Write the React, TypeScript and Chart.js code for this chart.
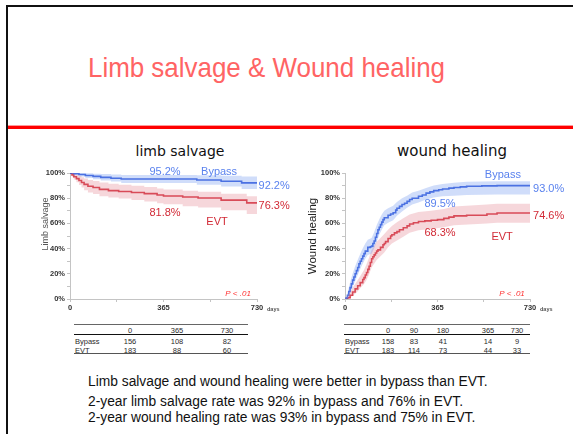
import React, { useEffect, useRef } from "react";
import { Chart, registerables } from "chart.js";

Chart.register(...registerables);

const FONT = '"Liberation Sans", Arial, sans-serif';

// ---------- Limb salvage data (days, %) ----------
const lsBypassDays = [0, 15, 35, 60, 90, 120, 160, 200, 495, 590, 670, 730];
const lsBypass = [100, 99.4, 98.8, 98.0, 97.3, 96.5, 95.8, 95.2, 94.5, 93.5, 92.2, 92.2];
const lsBypassUpper = [100, 100, 100, 99.8, 99.5, 99.2, 98.8, 98.5, 98.3, 97.8, 97.3, 97.3];
const lsBypassLower = [100, 98.3, 97.2, 96.0, 95.0, 94.0, 93.2, 92.0, 90.7, 89.3, 87.3, 85.4];

const lsEvtDays = [0, 8, 15, 25, 35, 45, 55, 70, 90, 115, 150, 190, 240, 290, 340, 365, 440, 500, 590, 690, 730];
const lsEvt = [100, 98.5, 97, 95.5, 94, 92.5, 91, 89.5, 88.5, 87, 86, 85.3, 84.5, 83.6, 82.5, 81.8, 81, 80.2, 78.5, 76.3, 76.3];
const lsEvtUpper = [100, 99.8, 99.2, 98.4, 97.6, 96.6, 95.6, 94.4, 93.6, 92.4, 91.4, 90.6, 89.8, 88.8, 87.6, 87, 86, 85.2, 83.6, 81.5, 81.5];
const lsEvtLower = [100, 97, 94.8, 92.6, 90.4, 88.4, 86.4, 84.6, 83.4, 81.6, 80.6, 79.8, 78.6, 77.4, 76, 75.2, 73.6, 72.6, 70.5, 67.5, 67.5];

// ---------- Wound healing data (days, %) ----------
const whBypassDays = [0, 5, 10, 15, 20, 25, 30, 35, 40, 45, 50, 55, 60, 65, 70, 75, 80, 90, 100, 105, 110, 115, 120, 125, 130, 135, 140, 145, 150, 155, 170, 180, 190, 200, 205, 215, 225, 235, 245, 255, 265, 290, 305, 320, 335, 350, 370, 385, 410, 430, 455, 480, 540, 600, 730];
const whBypass = [0, 1, 3, 6, 9, 12, 15, 17.5, 20, 22.5, 25, 28, 30, 32, 34, 36, 38, 41, 41.5, 42, 44, 46, 49, 52, 55, 57, 59, 61, 63, 64.5, 66.5, 67.5, 68.5, 70.5, 72, 73.5, 75, 76, 77.5, 79, 80, 81.5, 82.5, 84, 85, 86, 86.7, 87.3, 88, 88.5, 89, 89.5, 89.8, 90, 90];
const whBypassBandDays = [0, 10, 20, 30, 40, 50, 65, 80, 90, 105, 115, 125, 135, 145, 155, 170, 190, 205, 225, 245, 265, 290, 320, 350, 385, 430, 480, 600, 730];
const whBypassUpper = [0, 5, 13, 20, 26, 31, 38, 44, 47, 48.5, 53, 58.5, 63, 67, 70, 72, 74, 77, 80, 82, 84.5, 86, 88, 90, 91.2, 92.2, 93, 93.4, 93.4];
const whBypassLower = [0, 1, 5, 10, 14, 19, 26, 32, 35, 36, 40, 45.5, 51, 55, 58.5, 60.5, 62.5, 66, 69.5, 72.5, 75, 76.5, 79, 80.5, 81.5, 82, 82.5, 83, 83];

const whEvtDays = [0, 10, 20, 30, 40, 50, 60, 70, 75, 80, 85, 90, 95, 100, 105, 110, 115, 120, 125, 130, 140, 150, 155, 160, 170, 180, 185, 195, 205, 215, 230, 245, 255, 270, 290, 315, 340, 365, 390, 410, 430, 480, 560, 600, 730];
const whEvt = [0, 1, 3, 5.5, 8, 10.5, 13, 15.5, 17, 19, 21, 23.5, 26, 29, 32, 33.5, 35, 36.5, 38, 39, 41, 43, 44, 45.5, 48, 50, 51, 52.5, 53.5, 55, 56.5, 58, 59.5, 60.5, 61.5, 62, 62.5, 63, 64, 65, 66, 66.5, 67.5, 68.3, 68.3];
const whEvtBandDays = [0, 15, 30, 45, 60, 75, 85, 95, 105, 115, 125, 140, 155, 170, 185, 205, 230, 255, 290, 340, 390, 430, 560, 600, 730];
const whEvtUpper = [0, 4, 9, 13.5, 18, 23, 27.5, 33, 39, 42, 45.5, 48.5, 51.5, 55, 58, 61, 64, 67, 69, 70, 71.5, 73.5, 75, 75.5, 75.5];
const whEvtLower = [0, 0.5, 2.5, 5, 8.5, 12, 15, 19.5, 25, 28, 31, 34, 37, 41, 44, 46.5, 49.5, 52.5, 54.5, 55.5, 57, 58.5, 60, 60.5, 60.5];

// ---------- Axis ticks ----------
const xTickValues = [0, 182.5, 365, 547.5, 730];
const xTickLabels = [0, 365, 730];
const yTickValues = [0, 10, 20, 30, 40, 50, 60, 70, 80, 90, 100];
const yTickLabels = [0, 20, 40, 60, 80, 100];

// ---------- Number-at-risk tables ----------
const lsRiskDays = ["0", "365", "730"];
const lsRiskBypass = ["156", "108", "82"];
const lsRiskEvt = ["183", "88", "60"];
const whRiskDays = ["0", "90", "180", "365", "730"];
const whRiskBypass = ["158", "83", "41", "14", "9"];
const whRiskEvt = ["183", "114", "73", "44", "33"];

// ---------- Text ----------
const slideTitle = "Limb salvage & Wound healing";
const summaryLines = [
  "Limb salvage and wound healing were better in bypass than EVT.",
  "2-year limb salvage rate was 92% in bypass and 76% in EVT.",
  "2-year wound healing rate was 93% in bypass and 75% in EVT.",
];

const BLUE = "#3b60dc";
const BLUE_TXT = "#5a82ee";
const RED = "#d3313f";
const RED_TXT = "#d22a36";
const BLUE_BAND = "rgba(110,150,240,0.32)";
const RED_BAND = "rgba(228,130,142,0.32)";

const pts = (d: number[], v: number[]) => d.map((x, i) => ({ x, y: v[i] }));

const lsAnnotations = [
  { text: "95.2%", day: 371, pct: 101, color: BLUE_TXT, font: `11px ${FONT}`, align: "center" },
  { text: "Bypass", day: 582, pct: 101, color: BLUE_TXT, font: `11px ${FONT}`, align: "center" },
  { text: "92.2%", day: 736, pct: 90, color: BLUE_TXT, font: `11px ${FONT}`, align: "left" },
  { text: "76.3%", day: 736, pct: 74, color: RED_TXT, font: `11px ${FONT}`, align: "left" },
  { text: "81.8%", day: 371, pct: 68.5, color: RED_TXT, font: `11px ${FONT}`, align: "center" },
  { text: "EVT", day: 574, pct: 61.3, color: RED_TXT, font: `11px ${FONT}`, align: "center" },
  { text: "P < .01", day: 656, pct: 4, color: "#ff3030", font: `italic 8px ${FONT}`, align: "center" },
];

const whAnnotations = [
  { text: "Bypass", day: 623, pct: 98.7, color: BLUE_TXT, font: `11px ${FONT}`, align: "center" },
  { text: "93.0%", day: 742, pct: 87.5, color: BLUE_TXT, font: `11px ${FONT}`, align: "left" },
  { text: "89.5%", day: 375, pct: 75.6, color: BLUE_TXT, font: `11px ${FONT}`, align: "center" },
  { text: "74.6%", day: 742, pct: 66, color: RED_TXT, font: `11px ${FONT}`, align: "left" },
  { text: "68.3%", day: 375, pct: 52.6, color: RED_TXT, font: `11px ${FONT}`, align: "center" },
  { text: "EVT", day: 620, pct: 49.4, color: RED_TXT, font: `11px ${FONT}`, align: "center" },
  { text: "P < .01", day: 659, pct: 4, color: "#ff3030", font: `italic 8px ${FONT}`, align: "center" },
];

const annotPlugin = {
  id: "annot",
  afterDraw(chart: any, _args: any, opts: any) {
    const { ctx, scales, chartArea } = chart;
    const x = scales.x, y = scales.y;
    ctx.save();
    ctx.textBaseline = "middle";
    for (const a of opts.items || []) {
      ctx.font = a.font;
      ctx.fillStyle = a.color;
      ctx.textAlign = a.align;
      ctx.fillText(a.text, x.getPixelForValue(a.day), y.getPixelForValue(a.pct));
    }
    ctx.font = `bold 5.5px ${FONT}`;
    ctx.fillStyle = "#555";
    ctx.textAlign = "left";
    ctx.fillText("days", chartArea.right + 10, chartArea.bottom + 10);
    ctx.translate(chartArea.left - opts.yTitleOffset, (chartArea.top + chartArea.bottom) / 2 + opts.yTitleShift);
    ctx.rotate(-Math.PI / 2);
    ctx.textAlign = "center";
    ctx.font = opts.yTitleFont;
    ctx.fillStyle = opts.yTitleColor;
    ctx.fillText(opts.yTitle, 0, 0);
    ctx.restore();
  },
};

function buildConfig(d: any, yAxisWidth: number, bandStepped: boolean, annot: any) {
  const band = (data: any, color: string, fill: any) => ({
    data,
    stepped: bandStepped,
    tension: 0,
    borderWidth: 0,
    borderColor: "rgba(0,0,0,0)",
    backgroundColor: color,
    pointRadius: 0,
    fill,
  });
  const line = (data: any, color: string) => ({
    data,
    stepped: true,
    borderWidth: 1.6,
    borderColor: color,
    pointRadius: 0,
    fill: false,
  });
  const tickFont = { size: 7.5, weight: "bold" as const, family: FONT };
  return {
    type: "line" as const,
    data: {
      datasets: [
        band(d.bU, BLUE_BAND, "+1"),
        band(d.bL, BLUE_BAND, false),
        band(d.eU, RED_BAND, "+1"),
        band(d.eL, RED_BAND, false),
        line(d.b, BLUE),
        line(d.e, RED),
      ],
    },
    options: {
      responsive: false,
      animation: false as const,
      layout: { padding: { left: 0, top: 13, right: 43, bottom: 0 } },
      plugins: { legend: { display: false }, tooltip: { enabled: false }, annot },
      scales: {
        x: {
          type: "linear" as const,
          min: 0,
          max: 730,
          afterBuildTicks: (s: any) => {
            s.ticks = xTickValues.map((v) => ({ value: v }));
          },
          ticks: {
            autoSkip: false,
            maxRotation: 0,
            padding: 1,
            color: "#333",
            font: tickFont,
            callback: (v: any) => (xTickLabels.includes(Number(v)) ? String(v) : ""),
          },
          grid: { drawOnChartArea: false, tickLength: 3, color: "#c4c4c4" },
          border: { color: "#c4c4c4" },
          afterFit: (s: any) => {
            s.height = 21;
          },
        },
        y: {
          min: 0,
          max: 100,
          afterBuildTicks: (s: any) => {
            s.ticks = yTickValues.map((v) => ({ value: v }));
          },
          ticks: {
            autoSkip: false,
            padding: 2,
            color: "#333",
            font: tickFont,
            callback: (v: any) => (yTickLabels.includes(Number(v)) ? v + "%" : ""),
          },
          grid: { drawOnChartArea: false, tickLength: 3, color: "#c4c4c4" },
          border: { color: "#c4c4c4" },
          afterFit: (s: any) => {
            s.width = yAxisWidth;
          },
        },
      },
    },
    plugins: [annotPlugin],
  };
}

function KMChart(props: { left: number; top: number; width: number; height: number; config: () => any }) {
  const ref = useRef<HTMLCanvasElement>(null);
  useEffect(() => {
    const c = new Chart(ref.current as HTMLCanvasElement, props.config());
    return () => c.destroy();
  }, []);
  return (
    <canvas
      ref={ref}
      width={props.width}
      height={props.height}
      style={{ position: "absolute", left: props.left, top: props.top, width: props.width, height: props.height }}
    />
  );
}

function RiskTable(props: { left: number; right: number; cols: number[]; days: string[]; bypass: string[]; evt: string[] }) {
  const { left, right, cols } = props;
  const cell = (text: string, x: number, y: number, key: string, align: "center" | "left" = "center") => (
    <div
      key={key}
      style={{
        position: "absolute",
        left: x,
        top: y - 5,
        height: 10,
        lineHeight: "10px",
        fontSize: 7.5,
        color: "#2a2a2a",
        whiteSpace: "nowrap",
        transform: align === "center" ? "translateX(-50%)" : undefined,
      }}
    >
      {text}
    </div>
  );
  return (
    <>
      <div style={{ position: "absolute", left, top: 323.5, width: right - left, height: 1.6, background: "#666" }} />
      <div style={{ position: "absolute", left, top: 334, width: right - left, height: 1, background: "#111" }} />
      {props.days.map((t, i) => cell(t, cols[i], 330.5, "h" + i))}
      {cell("Bypass", left + 1, 341.5, "lb", "left")}
      {props.bypass.map((t, i) => cell(t, cols[i], 341.5, "b" + i))}
      {cell("EVT", left + 1, 350.5, "le", "left")}
      {props.evt.map((t, i) => cell(t, cols[i], 350.5, "e" + i))}
      <div style={{ position: "absolute", left, top: 352.5, width: right - left, height: 1.4, background: "#555" }} />
    </>
  );
}

export default function App() {
  const lsConfig = () =>
    buildConfig(
      {
        b: pts(lsBypassDays, lsBypass),
        bU: pts(lsBypassDays, lsBypassUpper),
        bL: pts(lsBypassDays, lsBypassLower),
        e: pts(lsEvtDays, lsEvt),
        eU: pts(lsEvtDays, lsEvtUpper),
        eL: pts(lsEvtDays, lsEvtLower),
      },
      40,
      true,
      { items: lsAnnotations, yTitle: "Limb salvage", yTitleOffset: 24, yTitleShift: -12, yTitleFont: `9px ${FONT}`, yTitleColor: "#555" }
    );
  const whConfig = () =>
    buildConfig(
      {
        b: pts(whBypassDays, whBypass),
        bU: pts(whBypassBandDays, whBypassUpper),
        bL: pts(whBypassBandDays, whBypassLower),
        e: pts(whEvtDays, whEvt),
        eU: pts(whEvtBandDays, whEvtUpper),
        eL: pts(whEvtBandDays, whEvtLower),
      },
      45,
      false,
      { items: whAnnotations, yTitle: "Wound healing", yTitleOffset: 32, yTitleShift: 0, yTitleFont: `11.5px ${FONT}`, yTitleColor: "#222" }
    );

  return (
    <div style={{ position: "fixed", left: 0, top: 0, width: 573, height: 434, background: "#fff", overflow: "hidden", fontFamily: FONT }}>
      <div style={{ position: "absolute", left: 6, top: 5, width: 567, height: 2, background: "#111" }} />
      <div style={{ position: "absolute", left: 6, top: 5, width: 2, height: 429, background: "#111" }} />
      <div
        style={{
          position: "absolute",
          left: 0,
          width: 533,
          top: 50,
          lineHeight: "34px",
          fontSize: 28.5,
          textAlign: "center",
          color: "#ff6464",
          whiteSpace: "nowrap",
          transform: "scaleX(0.91)",
          transformOrigin: "266.5px 50%",
        }}
      >
        {slideTitle}
      </div>
      <div style={{ position: "absolute", left: 8, top: 125, width: 565, height: 1, background: "#ff9a9a" }} />
      <div style={{ position: "absolute", left: 8, top: 126, width: 565, height: 2.5, background: "#ff0000" }} />

      <div style={{ position: "absolute", left: 80, width: 200, top: 141, lineHeight: "20px", fontSize: 14, textAlign: "center", color: "#111", fontFamily: '"DejaVu Sans", sans-serif' }}>
        limb salvage
      </div>
      <div style={{ position: "absolute", left: 352, width: 200, top: 141, lineHeight: "20px", fontSize: 15, textAlign: "center", color: "#111", fontFamily: '"DejaVu Sans", sans-serif' }}>
        wound healing
      </div>

      <KMChart left={30} top={160} width={270} height={160} config={lsConfig} />
      <KMChart left={300} top={160} width={273} height={160} config={whConfig} />

      <RiskTable left={74} right={248} cols={[130, 177, 227]} days={lsRiskDays} bypass={lsRiskBypass} evt={lsRiskEvt} />
      <RiskTable left={344} right={530} cols={[388, 414, 443, 488, 517]} days={whRiskDays} bypass={whRiskBypass} evt={whRiskEvt} />

      {summaryLines.map((t, i) => (
        <div
          key={i}
          style={{
            position: "absolute",
            left: 88,
            top: [382, 402, 418][i] - 9,
            lineHeight: "18px",
            fontSize: 13.8,
            color: "#111",
            whiteSpace: "nowrap",
          }}
        >
          {t}
        </div>
      ))}
    </div>
  );
}
